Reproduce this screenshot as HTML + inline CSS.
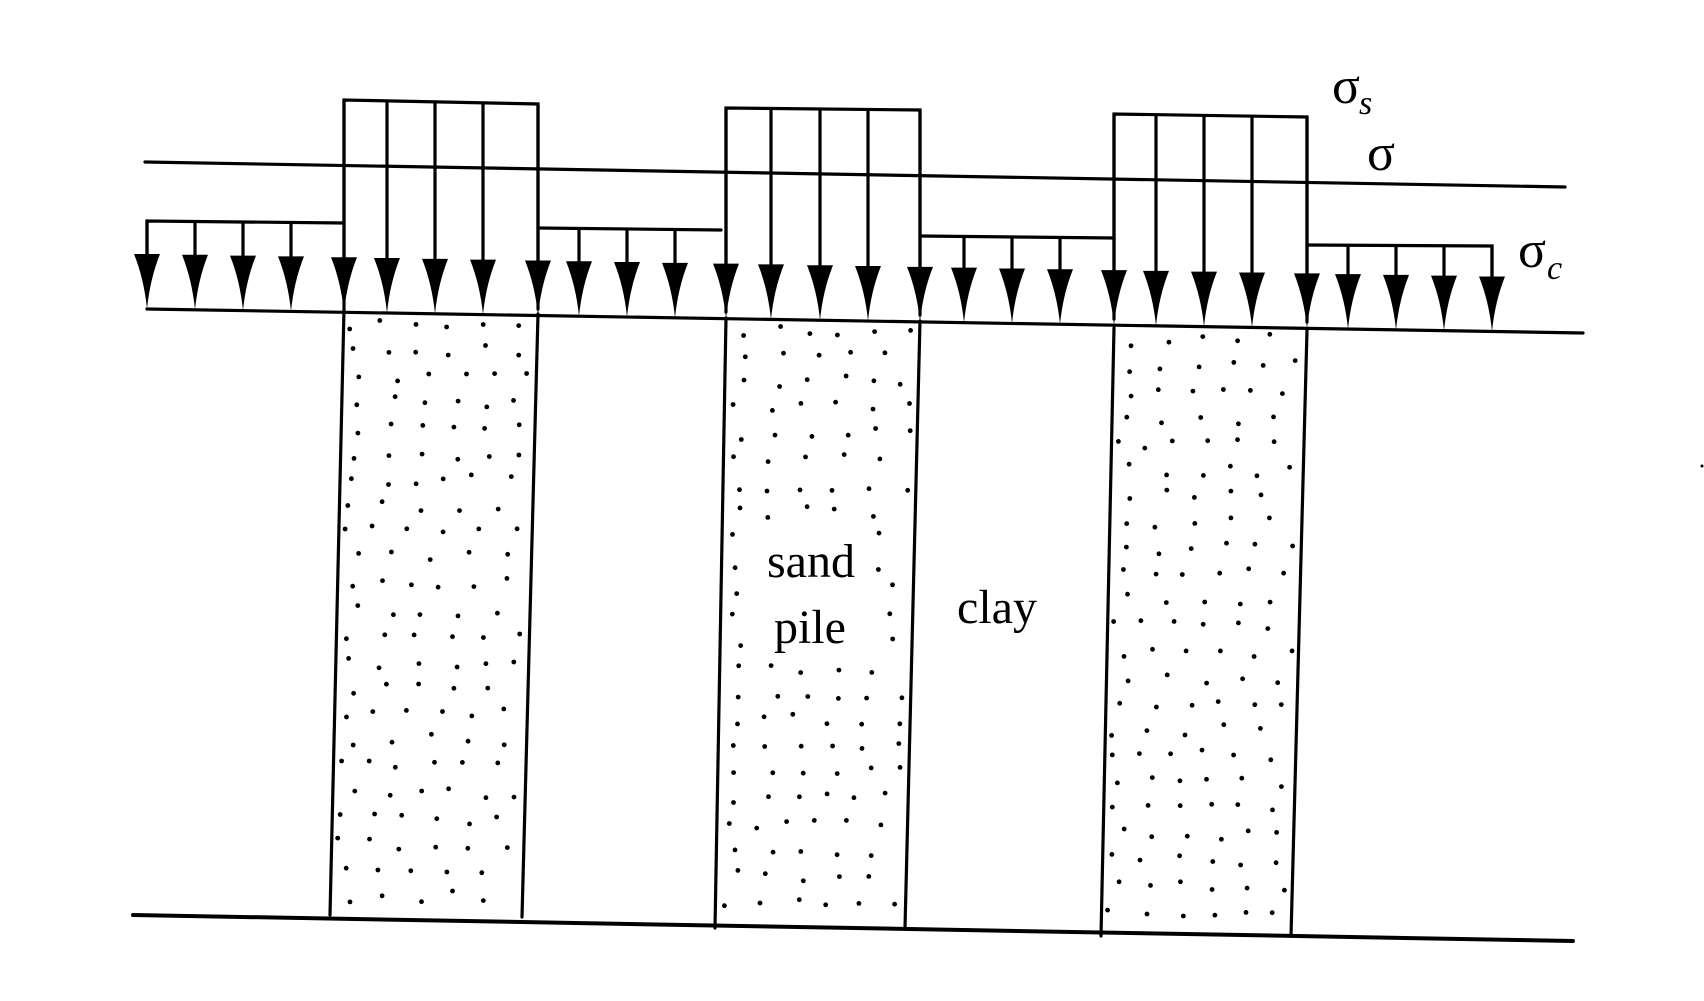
<!DOCTYPE html>
<html><head><meta charset="utf-8"><style>
html,body{margin:0;padding:0;background:#fff;}
svg{display:block;}
text{font-family:"Liberation Serif",serif;fill:#000;}
</style></head><body>
<svg id="s" width="1704" height="1001" viewBox="0 0 1704 1001" xmlns="http://www.w3.org/2000/svg">
<g stroke="#000" stroke-width="3.2" fill="none" stroke-linecap="round">
<line x1="145" y1="162" x2="1565" y2="187"/>
<line x1="147" y1="309" x2="1583" y2="333"/>
<line x1="133" y1="915" x2="1573" y2="941" stroke-width="4"/>
<polyline points="344,309 344,100 538,104 538,309"/>
<polyline points="726,312 726,108 920,110 920,315"/>
<polyline points="1114,319 1114,114 1307,117 1307,322"/>
<line x1="344" y1="309" x2="330" y2="915"/>
<line x1="538" y1="314" x2="522" y2="917"/>
<line x1="726" y1="318" x2="715" y2="928"/>
<line x1="920" y1="321" x2="905" y2="928"/>
<line x1="1114" y1="328" x2="1101" y2="936"/>
<line x1="1307" y1="330" x2="1291" y2="936"/>
<polyline points="147,280 147,221 344,223"/>
<polyline points="538,228 721,230"/>
<polyline points="920,236 1114,238"/>
<polyline points="1307,245 1492,246 1492,280"/>
</g>
<g id="arrows"></g>
<g id="dots" fill="#000"></g>
<text x="1332" y="103" font-size="52">σ</text>
<text x="1359" y="114" font-size="34" font-style="italic">s</text>
<text x="1367" y="170" font-size="52">σ</text>
<text x="1518" y="267" font-size="52">σ</text>
<text x="1547" y="279" font-size="34" font-style="italic">c</text>
<text x="811" y="577" font-size="48" text-anchor="middle">sand</text>
<text x="810" y="643" font-size="48" text-anchor="middle">pile</text>
<text x="997" y="623" font-size="48" text-anchor="middle">clay</text>
<circle cx="1702" cy="466" r="1.5" fill="#000"/>
</svg>
<script>
var NS="http://www.w3.org/2000/svg";
var A=document.getElementById("arrows");
function base(x){return 309+(x-147)*24/1436;}
function topY(x){
 if(x<=345)return (x>340?100:221);
 if(x<538)return 102;
 if(x<=540)return 104;
 if(x<726)return 228;
 if(x<920)return 109;
 if(x<=922)return 110;
 if(x<1114)return 236;
 if(x<1307)return 115;
 if(x<=1309)return 117;
 return 245;
}
var xs=[];
for(var i=0;i<29;i++){xs.push(147+i*((1492-147)/28));}
xs.forEach(function(x){
 x=Math.round(x);
 [344,538,726,920,1114,1307].forEach(function(e){if(Math.abs(x-e)<8)x=e;});
 var b=base(x), h=b-55, t=topY(x);
 var l=document.createElementNS(NS,"line");
 l.setAttribute("x1",x);l.setAttribute("x2",x);l.setAttribute("y1",t);l.setAttribute("y2",h+2);
 l.setAttribute("stroke","#000");l.setAttribute("stroke-width","3.2");A.appendChild(l);
 var p=document.createElementNS(NS,"path");
 p.setAttribute("d","M"+(x-13)+","+h+" L"+(x+13)+","+h+" Q"+(x+3)+","+(h+25)+" "+x+","+b+" Q"+(x-3)+","+(h+25)+" "+(x-13)+","+h+"Z");
 p.setAttribute("fill","#000");A.appendChild(p);
});
var D=document.getElementById("dots");
var seed=7;function rnd(){seed=(seed*16807)%2147483647;return seed/2147483647;}
var piles=[[344,538,330,522,312,915],[726,920,715,905,318,928],[1114,1307,1101,1291,328,936]];
piles.forEach(function(p,k){
 for(var y=p[4]+12;y<p[5]-8;y+=26){
  var f=(y-p[4])/(p[5]-p[4]);
  var L=p[0]+(p[2]-p[0])*f+6, R=p[1]+(p[3]-p[1])*f-6;
  for(var x=L+rnd()*16;x<R;x+=26+rnd()*14){
   var yy=y+rnd()*12-6;
   if(k==1 && x>755 && x<870 && yy>530 && yy<665)continue;
   var c=document.createElementNS(NS,"circle");
   c.setAttribute("cx",x.toFixed(1));c.setAttribute("cy",yy.toFixed(1));c.setAttribute("r","2.4");
   D.appendChild(c);
  }
 }
});
</script>
</body></html>
